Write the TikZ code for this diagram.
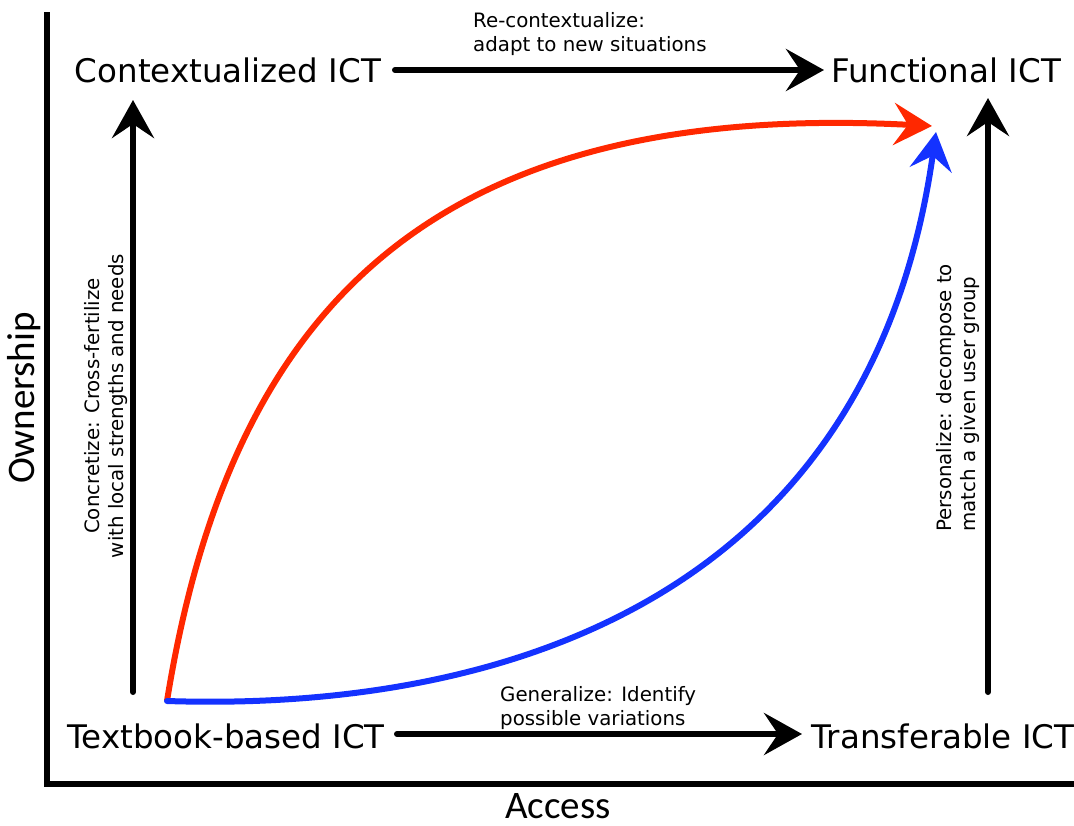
\documentclass[tikz,border=0pt]{standalone}
\usepackage{fontspec}
\setmainfont{DejaVu Sans}
\newfontfamily\axfont{Carlito}
\usetikzlibrary{arrows.meta}
\definecolor{myred}{RGB}{255,40,0}
\definecolor{myblue}{RGB}{20,50,255}
\tikzset{
  mainlbl/.style={inner sep=0pt, font=\fontsize{32.5}{36}\selectfont},
  smalllbl/.style={inner sep=0pt, font=\fontsize{19.8}{24.5}\selectfont, align=left},
  axislbl/.style={inner sep=0pt, font=\axfont\fontsize{39}{42}\selectfont},
  bigarrow/.style={line width=6pt, line cap=round, -{Stealth[length=38pt, width=42pt, inset=14pt]}},
  axisline/.style={line width=6pt},
  curve/.style={line width=6pt, -{Stealth[length=38pt, width=42pt, inset=14pt]}}
}
\begin{document}
\begin{tikzpicture}[x=1pt,y=-1pt]
\useasboundingbox (0,0) rectangle (1074,825);
% axes
\coordinate (ax0) at (47,784);
\coordinate (axtop) at (47,12);
\coordinate (axright) at (1074,784);
\draw[axisline] (axtop) -- (ax0) -- (axright);
\node[axislbl, anchor=base] (access) at (558,818) {Access};
\node[axislbl, rotate=90] (own) at (24,398) {Ownership};
% main nodes
\node[mainlbl] (ctx) at (228,70) {Contextualized ICT};
\node[mainlbl] (fun) at (946,70) {Functional ICT};
\node[mainlbl] (txt) at (226,736) {Textbook-based ICT};
\node[mainlbl] (tra) at (943,736) {Transferable ICT};
% horizontal arrows
\coordinate (ctxE) at (395,70);
\coordinate (funW) at (824,70);
\coordinate (txtE) at (397,734);
\coordinate (traW) at (802,734);
\draw[bigarrow] (ctxE) -- (funW);
\draw[bigarrow] (txtE) -- (traW);
% vertical arrows
\coordinate (lb) at (133,692);
\coordinate (lt) at (133,100);
\coordinate (rb) at (988,692);
\coordinate (rt) at (988,98);
\draw[bigarrow] (lb) -- (lt);
\draw[bigarrow] (rb) -- (rt);
% labels
\node[smalllbl, anchor=north west] (recon) at (473,12) {Re-contextualize:\\adapt to new situations};
\node[smalllbl, anchor=north west] (gen) at (500,686) {Generalize: Identify\\possible variations};
\node[smalllbl, rotate=90, align=center] (conc) at (106,406) {Concretize: Cross-fertilize\\with local strengths and needs};
\node[smalllbl, rotate=90, anchor=north west] (pers) at (936,532) {Personalize: decompose to\\match a given user group};
% curves
\coordinate (s) at (167,701);
\coordinate (redend) at (932,126);
\coordinate (blueend) at (936,132);
\draw[curve, myred] (s) .. controls (230,310) and (430,100) .. (redend);
\draw[curve, myblue, line cap=round] (s) .. controls (500,712) and (870,600) .. (blueend);
\end{tikzpicture}
\end{document}
